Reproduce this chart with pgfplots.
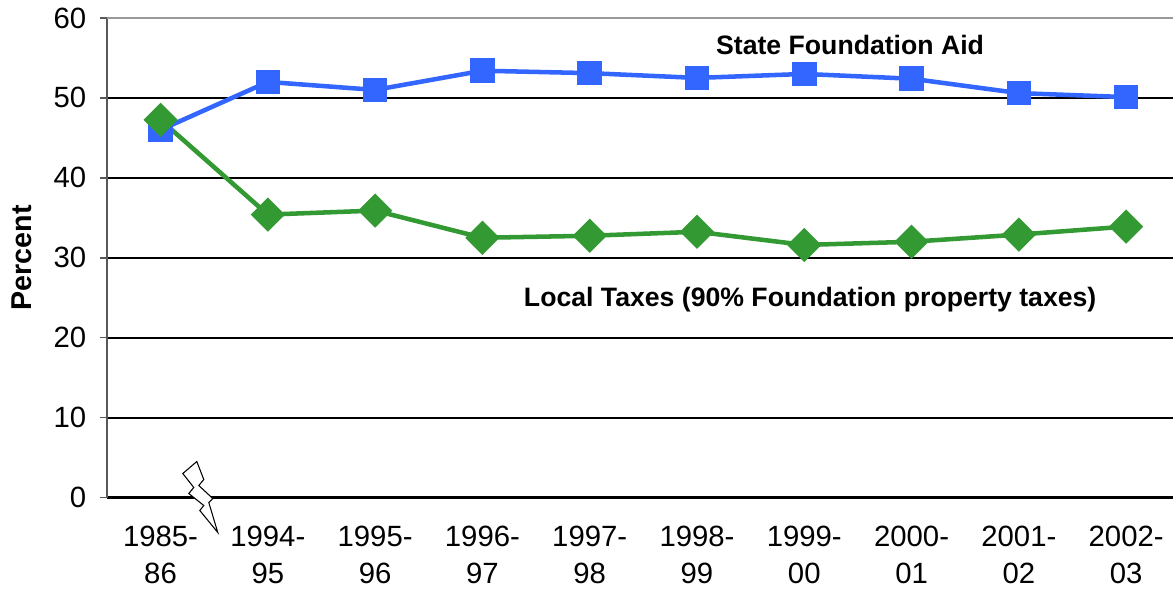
\documentclass[border=0pt]{standalone}
\usepackage{fontspec}
\setmainfont{Liberation Sans}
\usepackage{pgfplots}
\pgfplotsset{compat=1.18}
\definecolor{stateblue}{HTML}{3366FF}
\definecolor{localgreen}{HTML}{339933}
\begin{document}
\begin{tikzpicture}
\begin{axis}[
  at={(0,0)}, anchor=south west,
  scale only axis, width=800.25pt, height=360pt,
  xmin=-0.5, xmax=9.435, ymin=0, ymax=60,
  axis x line*=bottom, axis y line*=left,
  x axis line style={black, line width=1.6pt, -},
  y axis line style={gray!70!black, line width=1.6pt, -},
  ytick={0,10,...,50}, extra y ticks={60},
  extra y tick style={major grid style={gray!80, line width=1.8pt}},
  ymajorgrids, major grid style={black, line width=1.6pt},
  tick align=outside, major tick length=5pt,
  xtick=data, xtick style={draw=none},
  ytick style={gray!70!black, line width=1.2pt},
  xticklabels={{1985-\\86},{1994-\\95},{1995-\\96},{1996-\\97},{1997-\\98},{1998-\\99},{1999-\\00},{2000-\\01},{2001-\\02},{2002-\\03}},
  xticklabel style={align=center, font=\fontsize{22}{28}\selectfont, yshift=-13pt},
  yticklabel style={font=\fontsize{22}{25}\selectfont, xshift=-7pt},
  /pgf/number format/assume math mode=true,
  ylabel={\textbf{Percent}},
  ylabel style={at={(axis description cs:-0.0797,0.5)}, anchor=center, font=\fontsize{21.5}{24}\selectfont},
  clip=false,
]
\addplot[color=stateblue, line width=3.4pt, mark=square*, mark size=7.5pt, mark options={solid}]
  coordinates {(0,46.0) (1,52.0) (2,51.0) (3,53.4) (4,53.1) (5,52.5) (6,53.0) (7,52.4) (8,50.6) (9,50.1)};
\addplot[color=localgreen, line width=3.4pt, mark=square*, mark size=7.4pt, mark options={solid, rotate=45}]
  coordinates {(0,47.25) (1,35.4) (2,35.9) (3,32.5) (4,32.75) (5,33.25) (6,31.6) (7,32.0) (8,32.9) (9,33.9)};
\node[font=\fontsize{20}{24}\selectfont\bfseries] at (axis cs:6.427,56.6) {State Foundation Aid};
\node[font=\fontsize{20}{24}\selectfont\bfseries] at (axis cs:6.055,24.75) {Local Taxes (90\% Foundation property taxes)};
\end{axis}
\begin{scope}[shift={(-80.25pt,373.5pt)}, x=0.75pt, y=-0.75pt]
\draw[fill=white, line width=0.8pt, line join=miter] (197,462) -- (183,474) -- (194,488) -- (189,494) -- (204,506) -- (200,511) -- (218,533) -- (209,503) -- (213,499) -- (199,486) -- (204,480) -- cycle;
\end{scope}
\path[use as bounding box] (-80.25pt,-69pt) rectangle (800.25pt,373.5pt);
\end{tikzpicture}
\end{document}
